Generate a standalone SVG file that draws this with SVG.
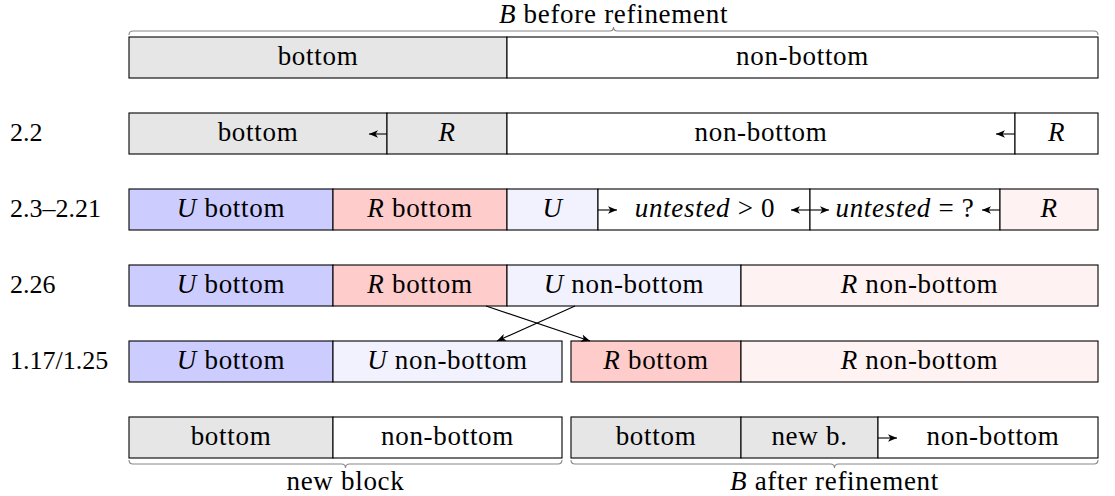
<svg xmlns="http://www.w3.org/2000/svg" width="1115" height="496" viewBox="0 0 1115 496">
<style>
text{font-family:"Liberation Serif","Times New Roman",serif;font-size:27px;fill:#000;letter-spacing:0.7px}
.c{text-anchor:middle}
.i{font-style:italic}
.lab{font-size:26px;letter-spacing:0}
rect{stroke:#000;stroke-width:1.1}
.g{fill:#e6e6e6}.w{fill:#fff}.b{fill:#ccccff}.r{fill:#ffcccc}.lb{fill:#f2f2ff}.lr{fill:#fff2f2}
.ar{stroke:#000;stroke-width:1.1;fill:none;marker-end:url(#ah)}
.br{stroke:#888;stroke-width:1.1;fill:none}
</style>
<defs>
<marker id="ah" markerUnits="userSpaceOnUse" markerWidth="11" markerHeight="9" refX="9" refY="4.5" orient="auto">
<path d="M0,0.8 L9,4.5 L0,8.2 L2.4,4.5 Z" fill="#000"/>
</marker>
</defs>
<rect width="1115" height="496" fill="#fff" style="stroke:none"/>

<g id="labels">
<text class="lab" x="10" y="141">2.2</text>
<text class="lab" x="10" y="217">2.3–2.21</text>
<text class="lab" x="10" y="293">2.26</text>
<text class="lab" x="10" y="369">1.17/1.25</text>
</g>

<g id="row1">
<g id="r1-bottom"><rect class="g" x="129" y="37" width="378" height="41"/><text class="c" x="318" y="65">bottom</text></g>
<g id="r1-nonbottom"><rect class="w" x="507" y="37" width="591" height="41"/><text class="c" x="802.5" y="65">non-bottom</text></g>
</g>

<g id="row2">
<g id="r2-bottom"><rect class="g" x="129" y="113" width="258" height="41"/><text class="c" x="258" y="141">bottom</text></g>
<g id="r2-R1"><rect class="g" x="387" y="113" width="120" height="41"/><text class="c i" x="447" y="141">R</text></g>
<g id="r2-nonbottom"><rect class="w" x="507" y="113" width="508" height="41"/><text class="c" x="761" y="141">non-bottom</text></g>
<g id="r2-R2"><rect class="w" x="1015" y="113" width="83" height="41"/><text class="c i" x="1056.5" y="141">R</text></g>
</g>

<g id="row3">
<g id="r3-Ubottom"><rect class="b" x="129" y="189" width="204" height="41"/><text class="c" x="231" y="217"><tspan class="i">U</tspan> bottom</text></g>
<g id="r3-Rbottom"><rect class="r" x="333" y="189" width="174" height="41"/><text class="c" x="420" y="217"><tspan class="i">R</tspan> bottom</text></g>
<g id="r3-U"><rect class="lb" x="507" y="189" width="91" height="41"/><text class="c i" x="552.5" y="217">U</text></g>
<g id="r3-untested1"><rect class="w" x="598" y="189" width="212" height="41"/><text class="c" x="705" y="217"><tspan class="i">untested</tspan> &gt; 0</text></g>
<g id="r3-untested2"><rect class="w" x="810" y="189" width="190" height="41"/><text class="c" x="905" y="217"><tspan class="i">untested</tspan> = ?</text></g>
<g id="r3-R"><rect class="lr" x="1000" y="189" width="98" height="41"/><text class="c i" x="1049" y="217">R</text></g>
</g>

<g id="row4">
<g id="r4-Ubottom"><rect class="b" x="129" y="265" width="204" height="41"/><text class="c" x="231" y="293"><tspan class="i">U</tspan> bottom</text></g>
<g id="r4-Rbottom"><rect class="r" x="333" y="265" width="174" height="41"/><text class="c" x="420" y="293"><tspan class="i">R</tspan> bottom</text></g>
<g id="r4-Unonbottom"><rect class="lb" x="507" y="265" width="234" height="41"/><text class="c" x="624" y="293"><tspan class="i">U</tspan> non-bottom</text></g>
<g id="r4-Rnonbottom"><rect class="lr" x="741" y="265" width="357" height="41"/><text class="c" x="919.5" y="293"><tspan class="i">R</tspan> non-bottom</text></g>
</g>

<g id="row5">
<g id="r5-Ubottom"><rect class="b" x="129" y="341" width="204" height="41"/><text class="c" x="231" y="369"><tspan class="i">U</tspan> bottom</text></g>
<g id="r5-Unonbottom"><rect class="lb" x="333" y="341" width="229" height="41"/><text class="c" x="447.5" y="369"><tspan class="i">U</tspan> non-bottom</text></g>
<g id="r5-Rbottom"><rect class="r" x="571" y="341" width="170" height="41"/><text class="c" x="656" y="369"><tspan class="i">R</tspan> bottom</text></g>
<g id="r5-Rnonbottom"><rect class="lr" x="741" y="341" width="357" height="41"/><text class="c" x="919.5" y="369"><tspan class="i">R</tspan> non-bottom</text></g>
</g>

<g id="row6">
<g id="r6-bottom1"><rect class="g" x="129" y="417" width="204" height="41"/><text class="c" x="231" y="445">bottom</text></g>
<g id="r6-nonbottom1"><rect class="w" x="333" y="417" width="229" height="41"/><text class="c" x="447.5" y="445">non-bottom</text></g>
<g id="r6-bottom2"><rect class="g" x="571" y="417" width="170" height="41"/><text class="c" x="656" y="445">bottom</text></g>
<g id="r6-newb"><rect class="g" x="741" y="417" width="137" height="41"/><text class="c" x="809.5" y="445">new b.</text></g>
<g id="r6-nonbottom2"><rect class="w" x="878" y="417" width="220" height="41"/><text class="c" x="993" y="445">non-bottom</text></g>
</g>

<g id="braces">
<g id="brace-top"><path class="br" d="M129,35 Q129,31 133,31 L609.5,31 Q613.5,31 613.5,27 Q613.5,31 617.5,31 L1094,31 Q1098,31 1098,35"/><text class="c" x="613.5" y="23"><tspan class="i">B</tspan> before refinement</text></g>
<g id="brace-new"><path class="br" d="M129,460 Q129,464 133,464 L341.5,464 Q345.5,464 345.5,468 Q345.5,464 349.5,464 L558,464 Q562,464 562,460"/><text class="c" x="345.5" y="490">new block</text></g>
<g id="brace-after"><path class="br" d="M571,460 Q571,464 575,464 L830.5,464 Q834.5,464 834.5,468 Q834.5,464 838.5,464 L1094,464 Q1098,464 1098,460"/><text class="c" x="834.5" y="490"><tspan class="i">B</tspan> after refinement</text></g>
</g>

<g id="connectors">
<path class="ar" d="M387,134 L369,134"/>
<path class="ar" d="M1015,134 L996,134"/>
<path class="ar" d="M598,210 L617,210"/>
<path class="ar" d="M810,210 L791,210"/>
<path class="ar" d="M810,210 L829,210"/>
<path class="ar" d="M1000,210 L982,210"/>
<path class="ar" d="M878,438 L897,438"/>
<path class="ar" d="M486,306 L590,341"/>
<path class="ar" d="M575,306 L497,341"/>
</g>
</svg>
